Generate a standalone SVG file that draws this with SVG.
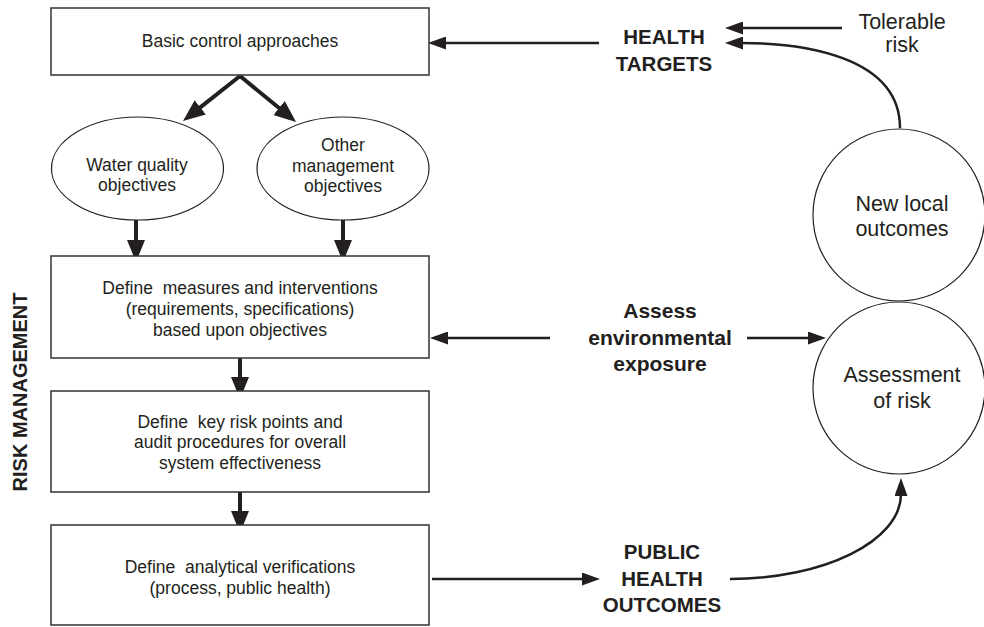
<svg xmlns="http://www.w3.org/2000/svg" width="984" height="627" viewBox="0 0 984 627">
<style>
text{font-family:"Liberation Sans",Arial,sans-serif;fill:#231f20;text-anchor:middle}
.t{font-size:17.5px}
.r{font-size:21.5px}
.b{font-size:20.5px;font-weight:bold}
.bl{font-size:21px;font-weight:bold}
.box{fill:#fff;stroke:#333;stroke-width:1.5}
.ov{fill:#fff;stroke:#231f20;stroke-width:1.2}
.thick{fill:none;stroke:#231f20;stroke-width:4}
.thin{fill:none;stroke:#231f20;stroke-width:2.5}
</style>
<defs>
<marker id="ah" markerUnits="userSpaceOnUse" markerWidth="22" markerHeight="18" refX="2" refY="9" orient="auto">
<path d="M0,0 L22,9 L0,18 z" fill="#231f20"/>
</marker>
<marker id="at" markerUnits="userSpaceOnUse" markerWidth="18" markerHeight="13" refX="2" refY="6.5" orient="auto">
<path d="M0,0 L18,6.5 L0,13 z" fill="#231f20"/>
</marker>
</defs>
<rect width="984" height="627" fill="#fff"/>

<g id="connectors">
<line class="thick" x1="240" y1="76" x2="198.7" y2="108.6" marker-end="url(#ah)"/>
<line class="thick" x1="240" y1="76" x2="280.6" y2="109.3" marker-end="url(#ah)"/>
<line class="thick" x1="136" y1="220" x2="136" y2="242" marker-end="url(#ah)"/>
<line class="thick" x1="343" y1="220" x2="343" y2="242" marker-end="url(#ah)"/>
<line class="thick" x1="240" y1="358" x2="240" y2="379" marker-end="url(#ah)"/>
<line class="thick" x1="240" y1="492" x2="240" y2="513" marker-end="url(#ah)"/>
<line class="thin" x1="599" y1="43" x2="444" y2="43" marker-end="url(#at)"/>
<line class="thin" x1="842" y1="28" x2="741" y2="28" marker-end="url(#at)"/>
<path class="thin" d="M900,128 C900,55 800,43 741,43" marker-end="url(#at)"/>
<line class="thin" x1="550" y1="338" x2="446" y2="338" marker-end="url(#at)"/>
<line class="thin" x1="747" y1="338" x2="810" y2="338" marker-end="url(#at)"/>
<line class="thin" x1="432" y1="579" x2="584" y2="579" marker-end="url(#at)"/>
<path class="thin" d="M730,579 C824,579 901,541 901,494" marker-end="url(#at)"/>
</g>

<g id="basic-control">
<rect class="box" x="51" y="8" width="378" height="67"/>
<text class="t" x="240" y="47">Basic control approaches</text>
</g>

<g id="water-quality">
<ellipse class="ov" cx="137.5" cy="168.5" rx="86" ry="51.5"/>
<text class="t" x="137" y="171">Water quality</text>
<text class="t" x="137" y="191">objectives</text>
</g>

<g id="other-management">
<ellipse class="ov" cx="343" cy="168.5" rx="86" ry="51.5"/>
<text class="t" x="343" y="151">Other</text>
<text class="t" x="343" y="172">management</text>
<text class="t" x="343" y="192">objectives</text>
</g>

<g id="define-measures">
<rect class="box" x="51" y="256" width="378" height="102"/>
<text class="t" x="240" y="294" xml:space="preserve">Define  measures and interventions</text>
<text class="t" x="240" y="315">(requirements, specifications)</text>
<text class="t" x="240" y="336">based upon objectives</text>
</g>

<g id="define-key-risk">
<rect class="box" x="51" y="391" width="378" height="101"/>
<text class="t" x="240" y="428" xml:space="preserve">Define  key risk points and</text>
<text class="t" x="240" y="448">audit procedures for overall</text>
<text class="t" x="240" y="469">system effectiveness</text>
</g>

<g id="define-analytical">
<rect class="box" x="51" y="525" width="378" height="100"/>
<text class="t" x="240" y="573" xml:space="preserve">Define  analytical verifications</text>
<text class="t" x="240" y="594">(process, public health)</text>
</g>

<g id="risk-management">
<text class="b" style="font-size:20px" transform="translate(27,392) rotate(-90)">RISK MANAGEMENT</text>
</g>

<g id="health-targets">
<text class="b" x="664" y="44">HEALTH</text>
<text class="b" x="664" y="71">TARGETS</text>
</g>

<g id="tolerable-risk">
<text class="r" x="902" y="29">Tolerable</text>
<text class="r" x="902" y="52">risk</text>
</g>

<g id="new-local-outcomes">
<circle class="ov" cx="899" cy="215" r="86"/>
<text class="r" x="902" y="211">New local</text>
<text class="r" x="902" y="236">outcomes</text>
</g>

<g id="assessment-of-risk">
<circle class="ov" cx="899" cy="388" r="86"/>
<text class="r" x="902" y="382">Assessment</text>
<text class="r" x="902" y="408">of risk</text>
</g>

<g id="assess-exposure">
<text class="bl" x="660" y="318">Assess</text>
<text class="bl" x="660" y="345">environmental</text>
<text class="bl" x="660" y="371">exposure</text>
</g>

<g id="public-health-outcomes">
<text class="b" x="662" y="559">PUBLIC</text>
<text class="b" x="662" y="586">HEALTH</text>
<text class="b" x="662" y="612">OUTCOMES</text>
</g>
</svg>
